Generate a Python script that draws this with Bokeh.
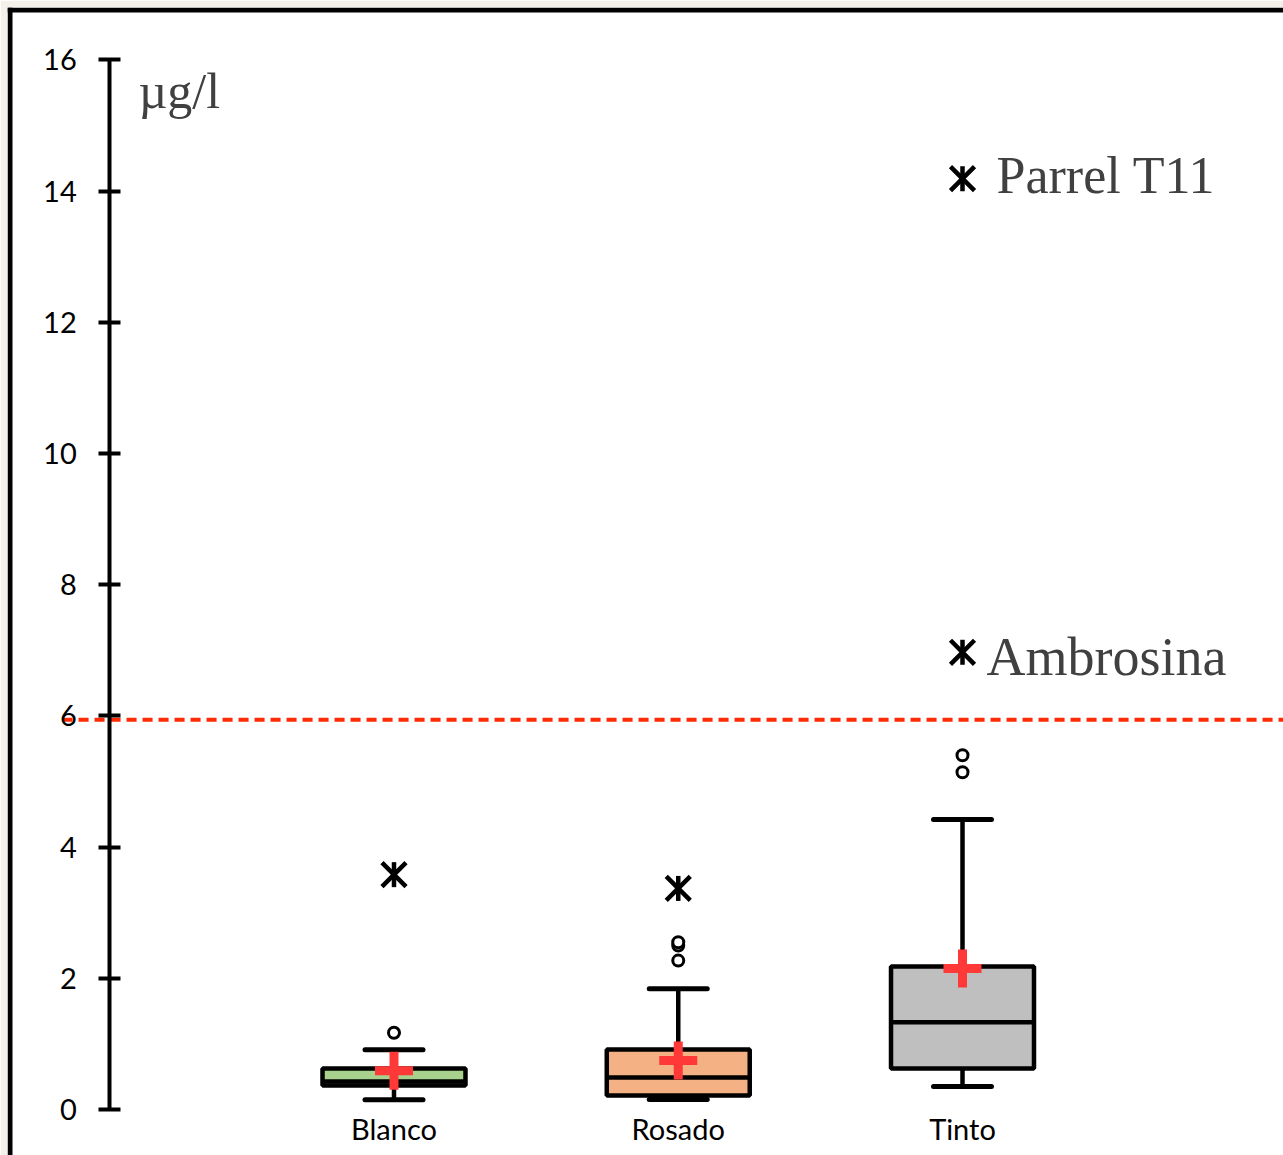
import math
from bokeh.plotting import figure
from bokeh.models import Span, FixedTicker, Range1d
from bokeh.core.properties import value
from bokeh.embed import file_html
from bokeh.resources import INLINE

# ---------------- data ----------------
categories = ["Blanco", "Rosado", "Tinto"]
cat_x = [1, 2, 3]
q1 = [0.366, 0.213, 0.625]
median = [0.427, 0.488, 1.33]
q3 = [0.625, 0.915, 2.18]
whisker_low = [0.15, 0.152, 0.35]
whisker_high = [0.91, 1.84, 4.42]
means = [0.59, 0.747, 2.15]
outlier_x = [1, 2, 2, 2, 3, 3]
outlier_y = [1.17, 2.27, 2.50, 2.55, 5.14, 5.40]
extreme_x = [1, 2, 3, 3]
extreme_y = [3.58, 3.37, 6.97, 14.19]
named_x = [3, 3]
named_y = [6.97, 14.19]
named_labels = ["Ambrosina", "Parrel T11"]
limit_value = 5.94
y_ticks = [0, 2, 4, 6, 8, 10, 12, 14, 16]
unit_label = "\u00b5g/l"
box_colors = ["#a9d18e", "#f4b183", "#bfbfbf"]

# ---------------- layout ----------------
W, H = 1283, 1155
ML, MT = 7, 7
PX_X = 284.25
PX_Y = 65.6
AXIS_PX = 109.25
ZERO_PY = 1109
X0 = (ML - AXIS_PX) / PX_X
X1 = (W - AXIS_PX) / PX_X
Y1 = (ZERO_PY - MT) / PX_Y
Y0 = (ZERO_PY - H) / PX_Y

p = figure(width=W, height=H, output_backend="svg", toolbar_location=None,
           x_range=Range1d(X0, X1), y_range=Range1d(Y0, Y1),
           min_border=0, min_border_left=ML, min_border_right=0,
           min_border_top=MT, min_border_bottom=0)
p.outline_line_color = None
p.grid.visible = False
p.background_fill_color = "white"
p.border_fill_color = "#f4f1ea"

# y axis
ya = p.yaxis[0]
ya.fixed_location = 0
ya.ticker = FixedTicker(ticks=y_ticks)
ya.bounds = (0, 16)
ya.axis_line_width = 4
ya.axis_line_color = "black"
ya.major_tick_line_width = 4
ya.major_tick_line_color = "black"
ya.major_tick_in = 11
ya.major_tick_out = 11
ya.minor_tick_line_color = None
ya.major_label_standoff = 22
ya.major_label_text_font = "Lato"
ya.major_label_text_font_size = "29px"
ya.major_label_text_color = "black"

# x axis
xa = p.xaxis[0]
xa.fixed_location = 0
xa.ticker = FixedTicker(ticks=cat_x)
xa.major_label_overrides = {x: c for x, c in zip(cat_x, categories)}
xa.axis_line_color = None
xa.major_tick_line_color = None
xa.minor_tick_line_color = None
xa.major_tick_out = 0
xa.major_tick_in = 0
xa.major_label_standoff = 1
xa.major_label_text_font = "Lato"
xa.major_label_text_font_size = "29px"
xa.major_label_text_color = "black"

# frame border (left and top)
p.add_layout(Span(location=X0 + 2.5 / PX_X, dimension="height", line_color="black", line_width=5))
p.add_layout(Span(location=Y1 - 2.5 / PX_Y, dimension="width", line_color="black", line_width=5))

# limit line
p.segment(x0=[-0.166], x1=[X1], y0=[limit_value], y1=[limit_value],
          line_color="#ff2a00", line_width=4, line_dash="10 6")

BOX_W = 0.503
CAP_W = 0.204
LW = 4.5
# whiskers
p.segment(x0=cat_x, x1=cat_x, y0=q3, y1=whisker_high, line_color="black", line_width=LW)
p.segment(x0=cat_x, x1=cat_x, y0=q1, y1=whisker_low, line_color="black", line_width=LW)
p.segment(x0=[x - CAP_W / 2 for x in cat_x], x1=[x + CAP_W / 2 for x in cat_x],
          y0=whisker_high, y1=whisker_high, line_color="black", line_width=5, line_cap="round")
p.segment(x0=[x - CAP_W / 2 for x in cat_x], x1=[x + CAP_W / 2 for x in cat_x],
          y0=whisker_low, y1=whisker_low, line_color="black", line_width=5, line_cap="round")
# boxes
p.vbar(x=cat_x, width=BOX_W, bottom=q1, top=q3, fill_color=box_colors,
       line_color="black", line_width=LW)
p.segment(x0=[x - BOX_W / 2 for x in cat_x], x1=[x + BOX_W / 2 for x in cat_x],
          y0=median, y1=median, line_color="black", line_width=LW)
# means
p.scatter(x=cat_x, y=means, marker="cross", size=38, line_color="#ff3838", line_width=9)
# outliers
p.scatter(x=outlier_x, y=outlier_y, marker="circle", size=11, line_color="black",
          line_width=3, fill_color="white")
# extremes
p.scatter(x=extreme_x, y=extreme_y, marker="x", size=34, line_color="black", line_width=4.5)
p.scatter(x=extreme_x, y=extreme_y, marker="dash", size=25, angle=math.pi / 2,
          line_color="black", line_width=4.5)

# labels
p.text(x=[named_x[0]], y=[named_y[0]], text=[named_labels[0]], x_offset=24, y_offset=5,
       text_font=value("Liberation Serif"), text_font_size="54px", text_color="#404040",
       text_baseline="alphabetic", text_align="left")
p.text(x=[named_x[1]], y=[named_y[1]], text=[named_labels[1]], x_offset=34, y_offset=-3,
       text_font=value("Liberation Serif"), text_font_size="52px", text_color="#404040",
       text_baseline="alphabetic", text_align="left")
p.text(x=[0.101], y=[15.53], text=[unit_label],
       text_font=value("Liberation Serif"), text_font_size="50px", text_color="#404040",
       text_baseline="alphabetic", text_align="left")

open("out.html", "w").write(file_html(p, INLINE))
